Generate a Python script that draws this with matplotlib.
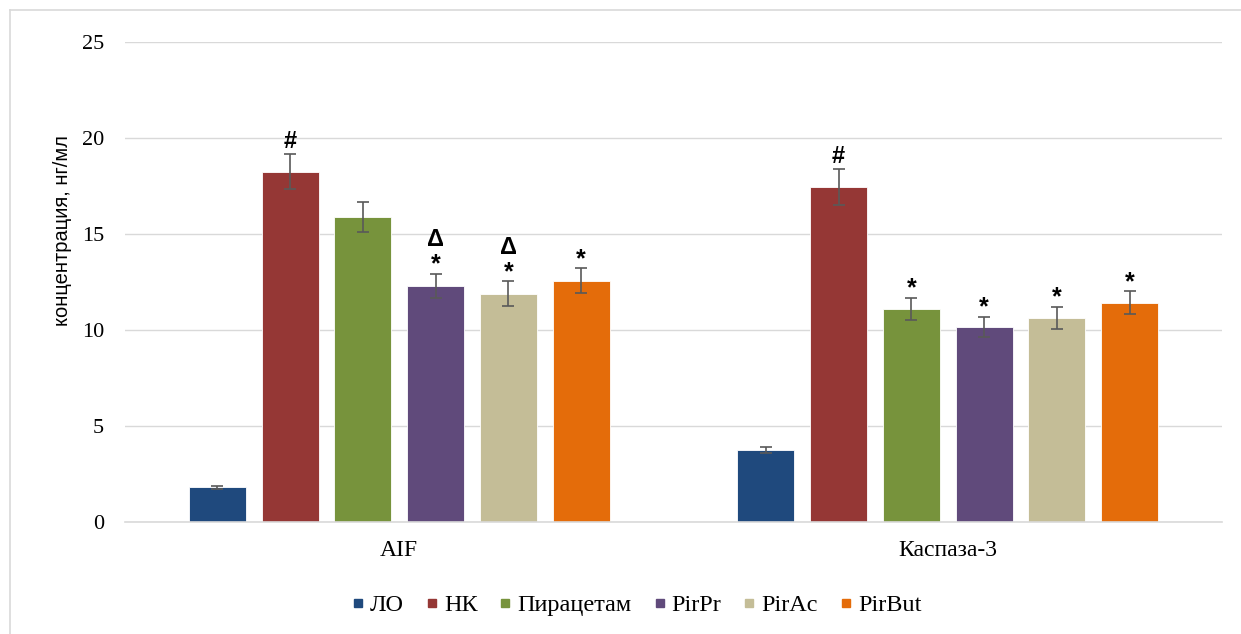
import numpy as np
import matplotlib.pyplot as plt
from matplotlib.lines import Line2D

categories = ['AIF', 'Каспаза-3']
groups = ['ЛО', 'НК', 'Пирацетам', 'PirPr', 'PirAc', 'PirBut']
colors = ['#1F497D', '#953735', '#77933C', '#604A7B', '#C4BD97', '#E46C0A']

# values per group: [AIF, Каспаза-3]
lo = [1.82, 3.75]
nk = [18.25, 17.45]
piracetam = [15.9, 11.09]
pirpr = [12.31, 10.16]
pirac = [11.89, 10.63]
pirbut = [12.57, 11.42]
values = [lo, nk, piracetam, pirpr, pirac, pirbut]

lo_err = [0.08, 0.17]
nk_err = [0.92, 0.92]
piracetam_err = [0.78, 0.59]
pirpr_err = [0.62, 0.52]
pirac_err = [0.64, 0.58]
pirbut_err = [0.64, 0.59]
errors = [lo_err, nk_err, piracetam_err, pirpr_err, pirac_err, pirbut_err]

# significance marks (lower, upper)
marks = [
    [('', ''), ('', '')],
    [('#', ''), ('#', '')],
    [('', ''), ('*', '')],
    [('*', 'Δ'), ('*', '')],
    [('*', 'Δ'), ('*', '')],
    [('*', ''), ('*', '')],
]

serif = 'Liberation Serif'
sans = 'Liberation Sans'

fig = plt.figure(figsize=(12.41, 6.34), dpi=100)
ax = fig.add_axes([125 / 1241, 1 - 522 / 634, 1097 / 1241, 480 / 634])

x = np.arange(len(categories))
step = 0.1327
width = 0.104
for i, (name, vals, errs, col) in enumerate(zip(groups, values, errors, colors)):
    xs = x + (i - 2.5) * step
    ax.bar(xs, vals, width, color=col, edgecolor='white', linewidth=0.6,
           label=name, zorder=2)
    ax.errorbar(xs, vals, yerr=errs, fmt='none', ecolor='#595959',
                elinewidth=1.2, capsize=4.5, capthick=1.2, zorder=3)
    for j in range(len(categories)):
        low, up = marks[i][j]
        top = vals[j] + errs[j]
        if low == '#':
            ax.annotate(low, (xs[j], top), xytext=(0, 1), textcoords='offset points',
                        ha='center', va='bottom', fontsize=17, family=sans,
                        fontweight='bold', color='black')
        elif low:
            ax.annotate(low, (xs[j], top), xytext=(0, -2), textcoords='offset points',
                        ha='center', va='bottom', fontsize=18, family=sans,
                        fontweight='bold', color='black')
        if up:
            ax.annotate(up, (xs[j], top), xytext=(0, 16.5), textcoords='offset points',
                        ha='center', va='bottom', fontsize=17, family=sans,
                        fontweight='bold', color='black')

ax.set_xlim(-0.5, 1.5)
ax.set_ylim(0, 25)
ax.set_yticks(range(0, 26, 5))
ax.set_xticks(x)
ax.set_xticklabels(categories, family=serif, fontsize=17)
for lab in ax.get_yticklabels():
    lab.set_family(serif)
    lab.set_fontsize(16)
ax.tick_params(axis='y', length=0, pad=15)
ax.tick_params(axis='x', length=0, pad=13)
ax.grid(axis='y', color='#D9D9D9', linewidth=1, zorder=0)
ax.set_axisbelow(True)
for s in ['top', 'right', 'left']:
    ax.spines[s].set_visible(False)
ax.spines['bottom'].set_color('#D9D9D9')
ax.spines['bottom'].set_linewidth(1.2)

ax.set_ylabel('концентрация, нг/мл', family=sans, fontsize=14.5)
ax.yaxis.set_label_coords(-0.048, 0.608)

handles = [Line2D([], [], marker='s', linestyle='none', markersize=6,
                  markerfacecolor=c, markeredgecolor=c) for c in colors]
fig.legend(handles, groups, loc='center', bbox_to_anchor=(636 / 1241, 1 - 605 / 634),
           ncol=6, frameon=False, prop={'family': serif, 'size': 17.5},
           handletextpad=0.2, columnspacing=0.85, handlelength=0.6)

# outer chart border (left and top visible)
fig.add_artist(Line2D([10 / 1241, 10 / 1241], [0, 1 - 10 / 634], color='#D9D9D9',
                      linewidth=1.2, transform=fig.transFigure))
fig.add_artist(Line2D([10 / 1241, 1], [1 - 10 / 634, 1 - 10 / 634], color='#D9D9D9',
                      linewidth=1.2, transform=fig.transFigure))

fig.savefig('out.png', dpi=100)
